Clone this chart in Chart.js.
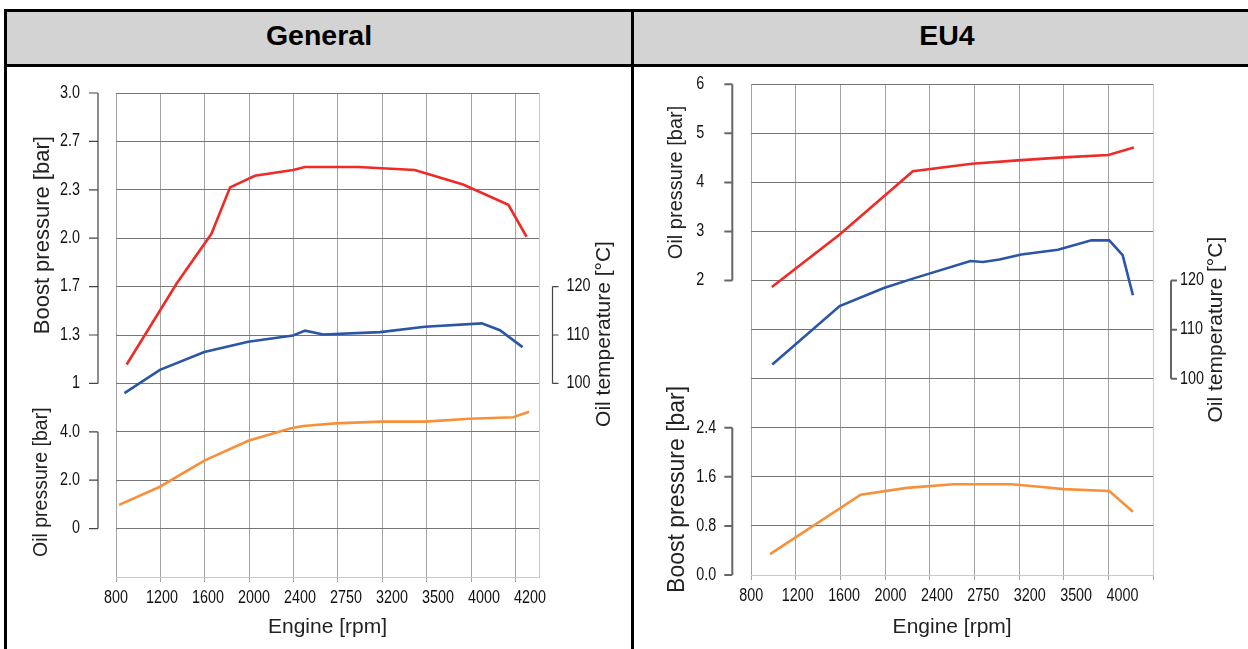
<!DOCTYPE html>
<html>
<head>
<meta charset="utf-8">
<script src="https://cdn.jsdelivr.net/npm/chart.js@4.4.1/dist/chart.umd.min.js"></script>
<style>
    body { margin: 0; background: #fff; width: 1248px; height: 649px; overflow: hidden; position: relative; font-family: 'Liberation Sans', Arial, sans-serif; }
    .bar { position: absolute; background: #000; }
    .head { position: absolute; top: 12px; height: 52px; line-height: 47px; text-align: center; font-weight: bold; font-size: 28.5px; color: #000; }
    canvas { position: absolute; top: 67px; }
</style>
</head>
<body>
<div style="position:absolute;left:7px;top:12px;width:1241px;height:52px;background:#d3d3d3"></div>
<div class="bar" style="left:4px;top:9px;width:1244px;height:3px"></div>
<div class="bar" style="left:4px;top:64px;width:1244px;height:3px"></div>
<div class="bar" style="left:4px;top:9px;width:3px;height:640px"></div>
<div class="bar" style="left:631px;top:9px;width:3px;height:640px"></div>
<div class="head" style="left:7px;width:624px">General</div>
<div class="head" style="left:634px;width:626px">EU4</div>
<canvas id="genChart" width="624" height="582" style="left:7px"></canvas>
<canvas id="euChart" width="614" height="582" style="left:634px"></canvas>

<script>
// x axis labels (evenly spaced slots)
const genRpmLabels = ['800', '1200', '1600', '2000', '2400', '2750', '3200', '3500', '4000', '4200'];
const euRpmLabels = ['800', '1200', '1600', '2000', '2400', '2750', '3200', '3500', '4000'];

// General - boost pressure [bar] (red)
const genBoostPos = [0.24, 1.37, 2.15, 2.57, 3.13, 3.99, 4.26, 5.46, 6.73, 7.82, 8.84, 9.25];
const genBoost = [1.13, 1.69, 2.03, 2.35, 2.43, 2.47, 2.49, 2.49, 2.47, 2.37, 2.23, 2.01];
// General - oil temperature [°C] (blue)
const genTempPos = [0.19, 0.99, 1.99, 2.98, 3.99, 4.26, 4.67, 5.95, 6.96, 8.24, 8.65, 9.16];
const genTemp = [98.0, 102.8, 106.5, 108.6, 109.9, 110.9, 110.1, 110.6, 111.7, 112.4, 111.0, 107.5];
// General - oil pressure [bar] (orange)
const genOilPos = [0.07, 0.99, 1.99, 2.98, 3.92, 4.22, 4.95, 5.95, 6.96, 7.96, 8.95, 9.31];
const genOil = [0.98, 1.73, 2.81, 3.63, 4.14, 4.24, 4.35, 4.42, 4.42, 4.54, 4.60, 4.83];

// EU4 - oil pressure [bar] (red)
const euOilPos = [0.46, 1.98, 3.62, 4.94, 5.97, 6.99, 8.00, 8.57];
const euOil = [1.87, 2.94, 4.23, 4.38, 4.45, 4.51, 4.56, 4.71];
// EU4 - oil temperature [°C] (blue)
const euTempPos = [0.47, 1.98, 2.97, 3.62, 4.91, 5.19, 5.56, 6.05, 6.87, 7.62, 8.02, 8.32, 8.55];
const euTemp = [102.9, 114.8, 118.5, 120.4, 124.0, 123.8, 124.3, 125.3, 126.3, 128.2, 128.2, 125.2, 117.0];
// EU4 - boost pressure [bar] (orange)
const euBoostPos = [0.42, 2.45, 3.49, 4.53, 4.94, 5.83, 6.46, 6.99, 8.02, 8.55];
const euBoost = [0.34, 1.31, 1.42, 1.48, 1.48, 1.48, 1.44, 1.40, 1.37, 1.03];

// side axis ticks
const genBoostTicks = [1, 1.3333, 1.6667, 2, 2.3333, 2.6667, 3];
const genBoostTickLabels = ['1', '1.3', '1.7', '2.0', '2.3', '2.7', '3.0'];
const genOilTicks = [0, 2, 4];
const genOilTickLabels = ['0', '2.0', '4.0'];
const euOilTicks = [2, 3, 4, 5, 6];
const euOilTickLabels = ['2', '3', '4', '5', '6'];
const euBoostTicks = [0, 0.8, 1.6, 2.4];
const euBoostTickLabels = ['0.0', '0.8', '1.6', '2.4'];
const tempTicks = [100, 110, 120];
const tempTickLabels = ['100', '110', '120'];

const RED = '#ee2b26';
const BLUE = '#2b55a6';
const ORANGE = '#f7903a';

function hasFont(name) {
    const c = document.createElement('canvas').getContext('2d');
    c.font = '20px monospace';
    const w1 = c.measureText('0123456789').width;
    c.font = `20px "${name}", monospace`;
    return c.measureText('0123456789').width !== w1;
}
// tick numbers in the picture are tall and narrow
const narrow = hasFont('Liberation Sans Narrow');
const tickFont = narrow ? '17.5px "Liberation Sans Narrow"' : '17.5px "Liberation Sans"';
const tickSquash = narrow ? 1 : 0.82;

Chart.defaults.font.family = "'Liberation Sans', Arial, sans-serif";
Chart.defaults.color = '#222';

function tickText(ctx, text, x, y, align) {
    ctx.save();
    ctx.translate(x, y);
    ctx.scale(tickSquash, 1);
    ctx.textAlign = align;
    ctx.textBaseline = 'middle';
    ctx.font = tickFont;
    ctx.fillStyle = '#111';
    ctx.fillText(text, 0, 0);
    ctx.restore();
}

// draws the detached y axes (line, ticks, labels, title) against the hidden value scales,
// and the rpm labels of the label axis
const sideAxes = {
    id: 'sideAxes',
    afterDraw(chart, args, opts) {
        const ctx = chart.ctx;
        const area = chart.chartArea;

        const xl = chart.scales.xl;
        xl.ticks.forEach(t => {
            tickText(ctx, opts.rpmLabels[t.value], xl.getPixelForValue(t.value), area.bottom + opts.labelGap, 'center');
        });

        opts.axes.forEach(a => {
            const sc = chart.scales[a.scale];
            const left = a.side === 'left';
            const lx = left ? area.left - a.gap : area.right + a.gap;
            const ys = a.values.map(v => sc.getPixelForValue(v));
            const top = Math.min(...ys), bottom = Math.max(...ys);
            ctx.save();
            ctx.strokeStyle = opts.lineColor;
            ctx.lineWidth = opts.lineWidth;
            ctx.beginPath();
            ctx.moveTo(lx, top);
            ctx.lineTo(lx, bottom);
            ys.forEach(y => {
                ctx.moveTo(lx, y);
                ctx.lineTo(left ? lx - a.tick : lx + a.tick, y);
            });
            ctx.stroke();

            a.labels.forEach((t, i) => tickText(ctx, t, lx + a.labelDx, ys[i], a.align));

            ctx.translate(lx + a.titleDx, (top + bottom) / 2 + (a.titleDy || 0));
            ctx.rotate(-Math.PI / 2);
            ctx.textAlign = 'center';
            ctx.textBaseline = 'middle';
            ctx.font = `${a.titleSize}px 'Liberation Sans'`;
            ctx.fillStyle = '#222';
            ctx.fillText(a.title, 0, 0);
            ctx.restore();
        });
    }
};

function buildChart(id, cfg) {
    const datasets = cfg.series.map(s => ({
        data: s.pos.map((p, i) => ({ x: p, y: s.values[i] })),
        xAxisID: 'x',
        yAxisID: s.axis,
        borderColor: s.color,
        borderWidth: 2.6,
        pointRadius: 0,
        tension: 0,
        fill: false
    }));

    return new Chart(document.getElementById(id), {
        type: 'line',
        data: { datasets },
        options: {
            responsive: false,
            animation: false,
            events: [],
            layout: { padding: cfg.padding },
            plugins: {
                legend: { display: false },
                tooltip: { enabled: false },
                sideAxes: {
                    axes: cfg.axes, lineColor: cfg.axisColor, lineWidth: cfg.axisWidth,
                    rpmLabels: cfg.rpmLabels, labelGap: 21
                }
            },
            scales: {
                x: {
                    type: 'linear', position: 'bottom', min: 0, max: cfg.xMax,
                    ticks: { display: false, stepSize: 1, includeBounds: false },
                    grid: { color: '#a3a3a3', lineWidth: 1, drawTicks: true, tickLength: 5 },
                    border: { color: '#c9c9c9' },
                    afterFit: s => { s.height = 0; }
                },
                xl: {
                    type: 'linear', position: 'bottom', min: 0, max: cfg.labelMax,
                    afterBuildTicks: s => { s.ticks = cfg.rpmLabels.map((_, i) => ({ value: i })); },
                    ticks: { display: false },
                    grid: { display: false, drawTicks: false },
                    border: { display: false },
                    title: {
                        display: true, text: 'Engine [rpm]', color: '#222',
                        font: { size: 21 }, padding: { top: 0, bottom: 9 }
                    },
                    afterFit: s => { s.height = cfg.xHeight; }
                },
                temp: {
                    type: 'linear', position: 'right', min: 60, max: 160,
                    ticks: { display: false, stepSize: 10 },
                    grid: { color: c => c.index === 0 ? '#c9c9c9' : '#767676', lineWidth: 1, drawTicks: false },
                    border: { color: '#c9c9c9' },
                    afterFit: s => { s.width = 0; }
                },
                ...cfg.valueScales
            }
        },
        plugins: [sideAxes]
    });
}

buildChart('genChart', {
    rpmLabels: genRpmLabels,
    xMax: 9.53,
    labelMax: 9.196,
    xHeight: 72,
    padding: { left: 109, right: 92, top: 26, bottom: 0 },
    axisColor: '#444',
    axisWidth: 1.2,
    valueScales: {
        boost: { type: 'linear', display: false, min: -1 / 3, max: 3 },
        oilp: { type: 'linear', display: false, min: -2, max: 18 }
    },
    series: [
        { pos: genBoostPos, values: genBoost, axis: 'boost', color: RED },
        { pos: genTempPos, values: genTemp, axis: 'temp', color: BLUE },
        { pos: genOilPos, values: genOil, axis: 'oilp', color: ORANGE }
    ],
    axes: [
        { scale: 'boost', side: 'left', values: genBoostTicks, labels: genBoostTickLabels, gap: 18, tick: 9,
          labelDx: -18, align: 'right', title: 'Boost pressure [bar]', titleSize: 22, titleDx: -55, titleDy: -3 },
        { scale: 'oilp', side: 'left', values: genOilTicks, labels: genOilTickLabels, gap: 18, tick: 9,
          labelDx: -18, align: 'right', title: 'Oil pressure [bar]', titleSize: 19.5, titleDx: -56, titleDy: 2 },
        { scale: 'temp', side: 'right', values: tempTicks, labels: tempTickLabels, gap: 13.5, tick: 6,
          labelDx: 14, align: 'left', title: 'Oil temperature [°C]', titleSize: 21, titleDx: 51.5, titleDy: -1 }
    ]
});

buildChart('euChart', {
    rpmLabels: euRpmLabels,
    xMax: 9,
    labelMax: 8.657,
    xHeight: 74,
    padding: { left: 117.3, right: 95, top: 17.3, bottom: 0 },
    axisColor: '#666',
    axisWidth: 2,
    valueScales: {
        oilp: { type: 'linear', display: false, min: -4, max: 6 },
        boost: { type: 'linear', display: false, min: 0, max: 8 }
    },
    series: [
        { pos: euOilPos, values: euOil, axis: 'oilp', color: RED },
        { pos: euTempPos, values: euTemp, axis: 'temp', color: BLUE },
        { pos: euBoostPos, values: euBoost, axis: 'boost', color: ORANGE }
    ],
    axes: [
        { scale: 'oilp', side: 'left', values: euOilTicks, labels: euOilTickLabels, gap: 19, tick: 8,
          labelDx: -36, align: 'left', title: 'Oil pressure [bar]', titleSize: 20, titleDx: -56, titleDy: 0 },
        { scale: 'boost', side: 'left', values: euBoostTicks, labels: euBoostTickLabels, gap: 19, tick: 8,
          labelDx: -36, align: 'left', title: 'Boost pressure [bar]', titleSize: 23, titleDx: -55, titleDy: -12 },
        { scale: 'temp', side: 'right', values: tempTicks, labels: tempTickLabels, gap: 18, tick: 6,
          labelDx: 9, align: 'left', title: 'Oil temperature [°C]', titleSize: 21, titleDx: 45, titleDy: 0 }
    ]
});
</script>
</body>
</html>
